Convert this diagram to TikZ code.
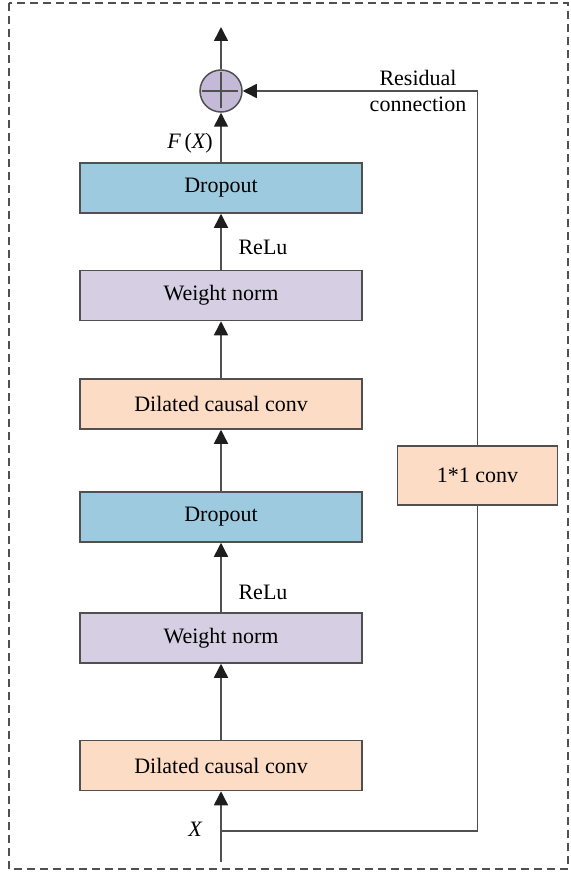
\documentclass[tikz,border=0pt]{standalone}
\usepackage{fontspec}
\setmainfont{Liberation Serif}
\usepackage{tikz}
\usetikzlibrary{positioning,arrows.meta}
\usepackage{xcolor}

\definecolor{dropblue}{HTML}{9ECADF}
\definecolor{normlilac}{HTML}{D6CEE2}
\definecolor{convpeach}{HTML}{FCDCC4}
\definecolor{addlilac}{HTML}{C4B9D7}
\definecolor{linegray}{HTML}{505050}
\definecolor{tipdark}{HTML}{1E1E1E}

\tikzset{
  block/.style={draw=linegray,line width=1.5pt,minimum width=282pt,minimum height=50pt,inner sep=0pt,font=\fontsize{22}{26}\selectfont},
  lbl/.style={font=\fontsize{22}{26}\selectfont,inner sep=0pt},
  flow/.style={draw=linegray,line width=1.5pt},
}

\begin{document}
\begin{tikzpicture}[x=1pt,y=-1pt,>={Triangle[length=14pt,width=14pt,color=tipdark]}]
\useasboundingbox (0,0) rectangle (570,872);
\draw[linegray,line width=1.2pt,dash pattern=on 8pt off 5pt] (9,3) rectangle (568,869);

\node[block,fill=dropblue] (drop1) at (221,188) {Dropout};
\node[block,fill=normlilac] (norm1) at (221,295.5) {Weight norm};
\node[block,fill=convpeach] (conv1) at (221,404) {Dilated causal conv};
\node[block,fill=dropblue] (drop2) at (221,517) {Dropout};
\node[block,fill=normlilac] (norm2) at (221,638) {Weight norm};
\node[block,fill=convpeach] (conv2) at (221,765.5) {Dilated causal conv};
\node[block,fill=convpeach,minimum width=160pt,minimum height=59pt] (skip) at (477.5,475.5) {1*1 conv};
\node[circle,draw=linegray,line width=1.5pt,fill=addlilac,minimum size=42pt,inner sep=0pt] (add) at (221,91) {};
\draw[linegray,line width=1.5pt] (add.north) ++(0,3) -- ++(0,36) (add.west) ++(3,0) -- ++(36,0);

\coordinate (in) at (221,862);
\coordinate (split) at (221,831);
\coordinate (out) at (221,27);

\node[lbl] (fx) at (190,143) {\itshape F\,\normalfont(\itshape X\normalfont)};
\node[lbl] (xin) at (195,829) {\itshape X};
\node[lbl] (relu1) at (263,247) {ReLu};
\node[lbl] (relu2) at (263,592) {ReLu};
\node[lbl,align=center] (res) at (418,91) {Residual\\connection};

\draw[flow,->] (in) -- (conv2);
\draw[flow,->] (conv2) -- (norm2);
\draw[flow,->] (norm2) -- (drop2);
\draw[flow,->] (drop2) -- (conv1);
\draw[flow,->] (conv1) -- (norm1);
\draw[flow,->] (norm1) -- (drop1);
\draw[flow,->] (drop1) -- (add);
\draw[flow,->] (add) -- (out);
\draw[flow] (split) -| (skip.south);
\draw[flow,->] (skip.north) |- (add.east);
\end{tikzpicture}
\end{document}
